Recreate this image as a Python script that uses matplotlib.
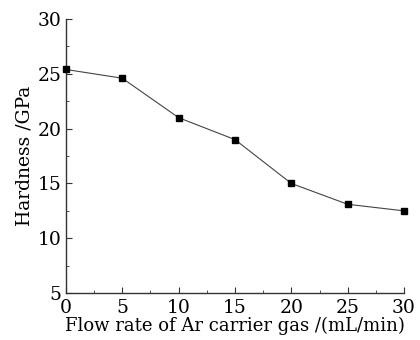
import matplotlib.pyplot as plt
from matplotlib.ticker import MultipleLocator

flow_rate = [0, 5, 10, 15, 20, 25, 30]
hardness = [25.4, 24.6, 21.0, 19.0, 15.0, 13.1, 12.5]

plt.rcParams['font.family'] = ['DejaVu Serif']

fig = plt.figure(figsize=(4.2, 3.4), dpi=100)
ax = fig.add_axes([0.157, 0.138, 0.805, 0.806])

ax.plot(flow_rate, hardness, color='#444444', lw=0.8, marker='s', ms=5,
        mfc='black', mec='black', clip_on=False, zorder=3)

ax.set_xlim(0, 30)
ax.set_ylim(5, 30)
ax.xaxis.set_major_locator(MultipleLocator(5))
ax.xaxis.set_minor_locator(MultipleLocator(2.5))
ax.yaxis.set_major_locator(MultipleLocator(5))
ax.yaxis.set_minor_locator(MultipleLocator(2.5))

for s in ['top', 'right']:
    ax.spines[s].set_visible(False)
for s in ['left', 'bottom']:
    ax.spines[s].set_color('#333333')
    ax.spines[s].set_linewidth(1.0)

ax.tick_params(which='both', direction='in', colors='#333333', labelcolor='black', labelsize=13.5)
ax.tick_params(which='major', length=4)
ax.tick_params(axis='x', which='major', pad=4)
ax.tick_params(axis='y', which='major', pad=3)
ax.tick_params(which='minor', length=2.5)

ax.set_xlabel('Flow rate of Ar carrier gas /(mL/min)', fontsize=13, labelpad=0)
ax.set_ylabel('Hardness /GPa', fontsize=13.5, labelpad=3)

fig.savefig('out.png', dpi=100)
